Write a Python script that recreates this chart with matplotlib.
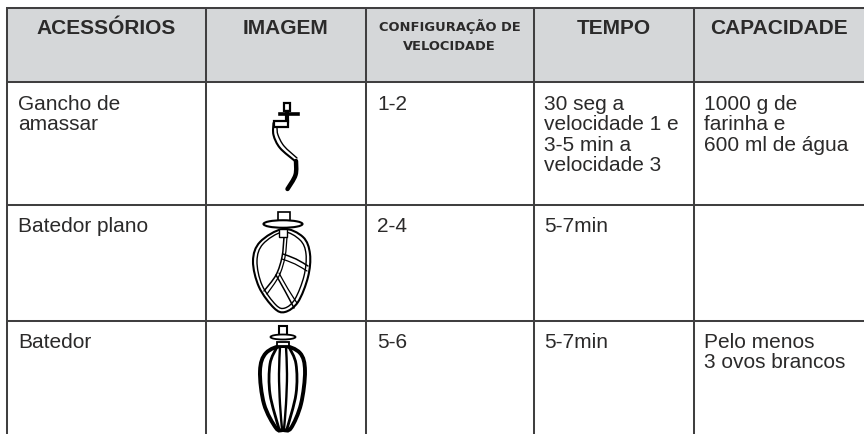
import matplotlib
matplotlib.use('Agg')
import matplotlib.pyplot as plt
from matplotlib.patches import Rectangle, PathPatch, Ellipse
from matplotlib.path import Path

# Table content
headers = ['ACESSÓRIOS', 'IMAGEM', 'CONFIGURAÇÃO DE\nVELOCIDADE', 'TEMPO', 'CAPACIDADE']
accessories = ['Gancho de\namassar', 'Batedor plano', 'Batedor']
speeds = ['1-2', '2-4', '5-6']
times = ['30 seg a\nvelocidade 1 e\n3-5 min a\nvelocidade 3', '5-7min', '5-7min']
capacities = ['1000 g de\nfarinha e\n600 ml de água', '', 'Pelo menos\n3 ovos brancos']

# Grid lines, in pixels
col_x = [7, 205.5, 365.5, 533.5, 694]
row_y = [9, 83, 205.5, 321.5]

INK = '#2b2a2a'
LINE = '#403f40'
BODY = 'Liberation Sans'


def curve(ax, pts, lw=1.0, color='black', closed=False):
    # smooth line through control points (catmull-rom to bezier)
    p = list(pts)
    if closed:
        p = [p[-1]] + p + p[:2]
    else:
        p = [p[0]] + p + [p[-1]]
    verts = [p[1]]
    codes = [Path.MOVETO]
    for i in range(1, len(p) - 2):
        p0, p1, p2, p3 = p[i - 1], p[i], p[i + 1], p[i + 2]
        verts.append((p1[0] + (p2[0] - p0[0]) / 6, p1[1] + (p2[1] - p0[1]) / 6))
        verts.append((p2[0] - (p3[0] - p1[0]) / 6, p2[1] - (p3[1] - p1[1]) / 6))
        verts.append(p2)
        codes += [Path.CURVE4] * 3
    ax.add_patch(PathPatch(Path(verts, codes), fill=False, lw=lw, ec=color, capstyle='round', zorder=4))


def draw_hook(ax):
    ax.add_patch(Rectangle((284, 104), 6, 8, fc='white', ec='black', lw=1.6, zorder=4))
    ax.plot([280, 298], [114.5, 114.5], color='black', lw=2.6, zorder=4)
    ax.plot([287, 287], [113, 122], color='black', lw=3.0, zorder=4)
    ax.add_patch(Rectangle((274, 122), 14, 6, fc='white', ec='black', lw=1.6, zorder=4))
    curve(ax, [(273.5, 124), (273.5, 136), (280, 149), (295, 162)], lw=1.5)
    curve(ax, [(277, 129), (278, 136), (284, 147), (297, 159)], lw=1.0)
    curve(ax, [(296, 162), (295.5, 176), (287.5, 190)], lw=3.2)


def draw_flat_beater(ax):
    ax.add_patch(Rectangle((277.5, 213), 12.5, 10, fc='white', ec='black', lw=1.2, zorder=4))
    ax.add_patch(Ellipse((283, 225), 39, 7.5, fc='white', ec='black', lw=1.5, zorder=5))
    outer = [(283, 230), (260, 243), (253, 262), (259, 288), (274, 309), (285, 313),
             (298, 303), (308, 278), (310, 255), (303, 238)]
    inner = [(283, 233), (263, 245), (257, 262), (262, 286), (276, 306), (285, 309),
             (295, 300), (304, 277), (306, 255), (300, 241)]
    curve(ax, outer, lw=1.5, closed=True)
    curve(ax, inner, lw=1.0, closed=True)
    ax.add_patch(Rectangle((279, 230), 8, 8, fc='white', ec='black', lw=1.0, zorder=5))
    # inner blades
    curve(ax, [(284, 238), (282, 258), (276, 276), (264, 292)], lw=1.1)
    curve(ax, [(287, 238), (285, 258), (279, 277), (267, 295)], lw=0.9)
    curve(ax, [(276, 276), (285, 292), (294, 309)], lw=1.1)
    curve(ax, [(279, 274), (288, 290), (297, 304)], lw=0.9)
    curve(ax, [(283, 255), (296, 260), (308, 267)], lw=1.1)
    curve(ax, [(282, 260), (295, 265), (307, 272)], lw=0.9)


def draw_wire_whisk(ax):
    ax.add_patch(Rectangle((278.5, 327), 8, 11, fc='white', ec='black', lw=1.5, zorder=4))
    ax.add_patch(Ellipse((283, 338), 25, 5, fc='white', ec='black', lw=1.3, zorder=5))
    ax.add_patch(Rectangle((277, 343), 12, 4, fc='white', ec='black', lw=1.3, zorder=5))
    curve(ax, [(283, 347), (266, 354), (260, 372), (264, 405), (276, 429), (283, 431),
               (291, 429), (301, 405), (305, 372), (300, 354)], lw=2.8, closed=True)
    curve(ax, [(277, 348), (270, 365), (270, 395), (279, 430)], lw=2.0)
    curve(ax, [(289, 348), (296, 365), (296, 395), (287, 430)], lw=2.0)
    curve(ax, [(280, 348), (279, 375), (280, 405), (282, 430)], lw=1.7)
    curve(ax, [(286, 348), (287, 375), (286, 405), (284, 430)], lw=1.7)


fig = plt.figure(figsize=(8.64, 4.35), dpi=100)
ax = fig.add_axes([0, 0, 1, 1])
ax.set_xlim(0, 864)
ax.set_ylim(435, 0)
ax.axis('off')

# Header band
ax.add_patch(Rectangle((col_x[0], row_y[0]), 864 - col_x[0], row_y[1] - row_y[0], fc='#d5d7d9', ec='none', zorder=1))

# Grid
for x in col_x:
    ax.plot([x, x], [row_y[0], 435], color=LINE, lw=1.45, solid_capstyle='butt', zorder=2)
for y in row_y:
    ax.plot([col_x[0] - 0.7, 864], [y, y], color=LINE, lw=1.45, solid_capstyle='butt', zorder=2)

# Header text
for i, h in enumerate(headers):
    cx = [106.5, 285.5, 449.5, 614, 779][i]
    if i == 2:
        ax.text(cx, 36, h, ha='center', va='center', family='DejaVu Sans', weight='bold',
                fontsize=9.4, color=INK, linespacing=1.7, zorder=3)
    else:
        ax.text(cx, 28.5, h, ha='center', va='center', family=BODY, weight='bold',
                fontsize=15, color=INK, zorder=3)

# Body text
body_y = [95, 217.5, 333]
for r in range(3):
    for x, col in zip([18.5, 377.5, 544, 704.5], [accessories, speeds, times, capacities]):
        ax.text(x, body_y[r], col[r], ha='left', va='top', family=BODY, fontsize=15,
                color=INK, linespacing=1.085, zorder=3)

draw_hook(ax)
draw_flat_beater(ax)
draw_wire_whisk(ax)

fig.savefig('out.png', dpi=100)
